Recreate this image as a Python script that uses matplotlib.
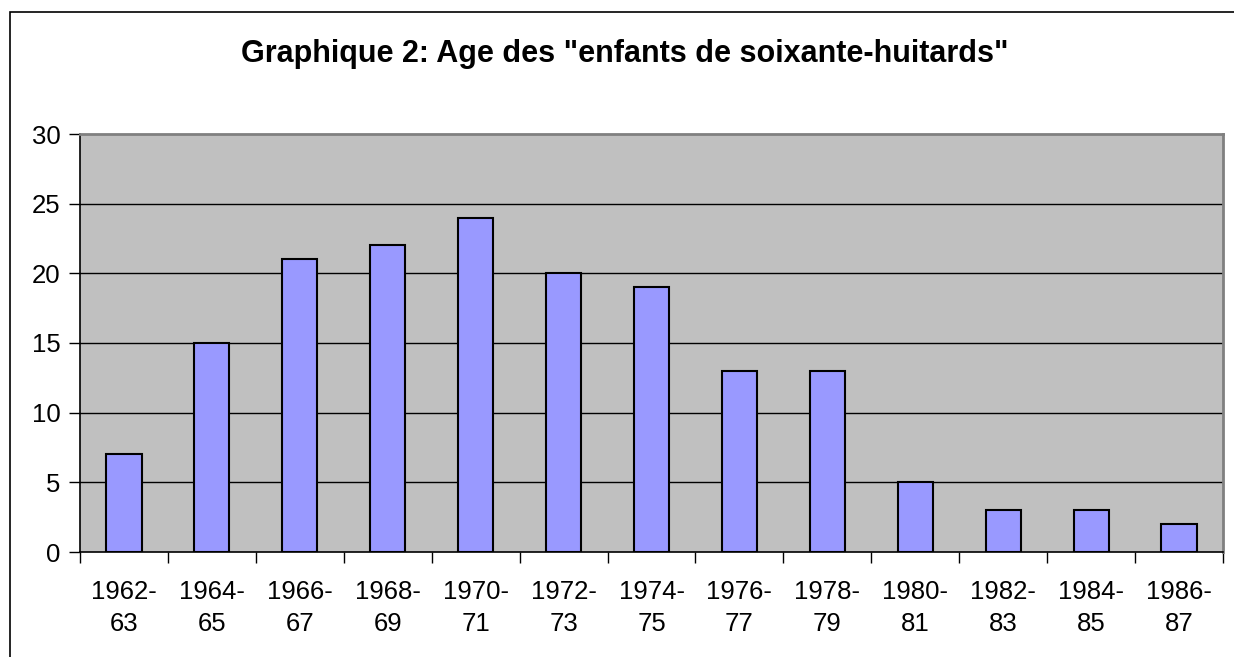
import matplotlib
matplotlib.use("Agg")
import matplotlib.pyplot as plt
from matplotlib.patches import Rectangle
import numpy as np

categories = ["1962-\n63", "1964-\n65", "1966-\n67", "1968-\n69", "1970-\n71", "1972-\n73",
              "1974-\n75", "1976-\n77", "1978-\n79", "1980-\n81", "1982-\n83", "1984-\n85", "1986-\n87"]
values = [7, 15, 21, 22, 24, 20, 19, 13, 13, 5, 3, 3, 2]
yticks = [0, 5, 10, 15, 20, 25, 30]
title = 'Graphique 2: Age des "enfants de soixante-huitards"'

plt.rcParams['font.family'] = ['Liberation Sans', 'DejaVu Sans']

W, H = 1234, 657
fig = plt.figure(figsize=(W / 100, H / 100), dpi=100)
fig.patch.set_facecolor("white")

# outer chart frame (extends past right/bottom edges)
fig.patches.append(Rectangle((10 / W, -0.1), 1.2, 1 - 12 / H + 0.1, transform=fig.transFigure,
                             fill=False, edgecolor="black", linewidth=1.2))

left, right, top, bottom = 80, 1223, 134, 552
ax = fig.add_axes([left / W, 1 - bottom / H, (right - left) / W, (bottom - top) / H])
ax.set_facecolor("#C0C0C0")

x = np.arange(len(values))
ax.bar(x, values, width=0.4, color="#9999FF", edgecolor="black", linewidth=1.5, zorder=3)

ax.set_xlim(-0.5, len(values) - 0.5)
ax.set_ylim(0, 30)
ax.set_yticks(yticks)
ax.set_yticklabels([str(t) for t in yticks], fontsize=18.5)
for t in yticks[1:-1]:
    ax.axhline(t, color="black", linewidth=1.0, zorder=1)

ax.set_xticks(x)
ax.set_xticklabels(categories, fontsize=18.5, linespacing=1.45)
ax.tick_params(axis="x", which="major", length=0, pad=20)
ax.set_xticks(np.arange(len(values) + 1) - 0.5, minor=True)
ax.tick_params(axis="x", which="minor", length=8, width=1, color="black", direction="out")
ax.tick_params(axis="y", length=8, width=1, color="black", direction="out", pad=6)

for s in ["top", "right"]:
    ax.spines[s].set_color("#808080")
    ax.spines[s].set_linewidth(2)
for s in ["left", "bottom"]:
    ax.spines[s].set_color("black")
    ax.spines[s].set_linewidth(1.2)

fig.text(625 / W, 1 - 62 / H, title, ha="center", va="baseline", fontsize=22, fontweight="bold")

fig.savefig("out.png", dpi=100)
